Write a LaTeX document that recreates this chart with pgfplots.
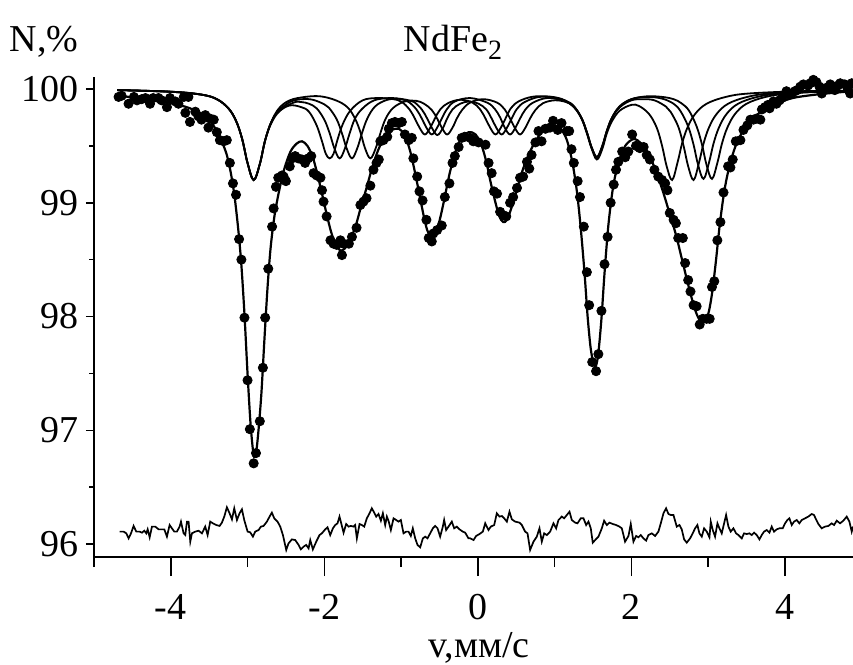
\documentclass[border=0pt]{standalone}
\usepackage{fontspec}
\setmainfont{Liberation Serif}
\usepackage{pgfplots}
\pgfplotsset{compat=1.18}
\begin{document}
\begin{tikzpicture}
\begin{axis}[
  scale only axis, width=379.5pt, height=240pt,
  xmin=-5, xmax=4.887, ymin=95.887, ymax=100.105,
  axis lines*=left,
  axis line style={line width=0.8pt},
  tick align=outside,
  xtick={-4,-2,0,2,4}, minor xtick={-5,-3,-1,1,3},
  ytick={96,97,98,99,100}, minor ytick={96.5,97.5,98.5,99.5},
  tick style={black, line width=0.8pt},
  major tick length=4pt, minor tick length=2.5pt,
  xtick style={/pgfplots/major tick length=9.5pt, /pgfplots/minor tick length=5pt},
  ticklabel style={font=\fontsize{19}{22}\selectfont},
  xticklabel style={yshift=-11pt},
  /pgf/number format/assume math mode=true,
  clip=false,
]
% ---------- subspectra ----------
\addplot[black, line width=0.9pt, smooth, tension=0.6] coordinates {
(-4.70,99.99) (-4.00,99.976) (-3.60,99.95) (-3.40,99.91) (-3.25,99.83) (-3.15,99.72)
(-3.07,99.56) (-3.00,99.35) (-2.92,99.20) (-2.84,99.34) (-2.77,99.55) (-2.69,99.70)
(-2.59,99.80) (-2.45,99.855) (-2.30,99.84) (-2.20,99.80) (-2.10,99.68) (-2.03,99.54)
(-1.98,99.43) (-1.93,99.39) (-1.88,99.43) (-1.83,99.55) (-1.76,99.69) (-1.66,99.81)
(-1.50,99.90) (-1.31,99.92) (-1.10,99.91) (-0.99,99.885) (-0.89,99.82) (-0.82,99.74)
(-0.76,99.66) (-0.69,99.60) (-0.62,99.66) (-0.56,99.74) (-0.49,99.82) (-0.39,99.875)
(-0.23,99.905) (-0.07,99.88) (0.03,99.82) (0.10,99.74) (0.16,99.66) (0.23,99.60)
(0.30,99.66) (0.36,99.74) (0.43,99.83) (0.53,99.89) (0.70,99.93) (0.90,99.935)
(1.10,99.91) (1.25,99.84) (1.35,99.74) (1.42,99.61) (1.48,99.48) (1.55,99.38)
(1.62,99.47) (1.68,99.61) (1.75,99.72) (1.85,99.81) (2.00,99.86) (2.10,99.85)
(2.23,99.78) (2.33,99.66) (2.40,99.50) (2.46,99.32) (2.53,99.20) (2.60,99.35)
(2.66,99.52) (2.73,99.66) (2.83,99.78) (2.98,99.87) (3.23,99.93) (3.53,99.96)
(4.20,99.98) (4.89,99.985)
};
\addplot[black, line width=0.9pt, smooth, tension=0.6] coordinates {
(-4.70,99.99) (-4.00,99.975) (-3.60,99.95) (-3.40,99.91) (-3.25,99.83) (-3.15,99.72)
(-3.07,99.56) (-3.00,99.35) (-2.92,99.20) (-2.84,99.34) (-2.77,99.55) (-2.69,99.71)
(-2.59,99.81) (-2.40,99.88) (-2.30,99.885) (-2.20,99.87) (-2.10,99.83) (-2.00,99.73)
(-1.93,99.61) (-1.87,99.48) (-1.80,99.39) (-1.73,99.48) (-1.67,99.61) (-1.60,99.74)
(-1.50,99.83) (-1.35,99.90) (-1.15,99.92) (-1.00,99.91) (-0.90,99.885) (-0.80,99.82)
(-0.73,99.74) (-0.67,99.66) (-0.60,99.60) (-0.53,99.66) (-0.47,99.74) (-0.40,99.825)
(-0.30,99.89) (-0.10,99.92) (0.12,99.88) (0.22,99.825) (0.29,99.75) (0.35,99.66)
(0.42,99.60) (0.49,99.66) (0.55,99.74) (0.62,99.82) (0.72,99.88) (0.90,99.92)
(1.10,99.90) (1.25,99.845) (1.35,99.745) (1.42,99.62) (1.48,99.49) (1.55,99.40)
(1.62,99.49) (1.68,99.63) (1.75,99.75) (1.85,99.84) (2.00,99.90) (2.15,99.91)
(2.30,99.90) (2.45,99.845) (2.51,99.80) (2.61,99.67) (2.68,99.50) (2.74,99.32)
(2.81,99.20) (2.88,99.35) (2.94,99.52) (3.01,99.66) (3.11,99.78) (3.26,99.87)
(3.51,99.93) (3.81,99.96) (4.40,99.975) (4.89,99.98)
};
\addplot[black, line width=0.9pt, smooth, tension=0.6] coordinates {
(-4.70,99.99) (-4.00,99.975) (-3.60,99.95) (-3.40,99.91) (-3.25,99.83) (-3.15,99.72)
(-3.07,99.56) (-3.00,99.35) (-2.92,99.20) (-2.84,99.34) (-2.77,99.55) (-2.69,99.71)
(-2.59,99.81) (-2.45,99.885) (-2.30,99.91) (-2.15,99.905) (-2.00,99.865) (-1.94,99.835)
(-1.84,99.735) (-1.77,99.61) (-1.71,99.48) (-1.64,99.39) (-1.57,99.48) (-1.51,99.61)
(-1.44,99.74) (-1.34,99.845) (-1.20,99.90) (-1.05,99.915) (-0.90,99.90) (-0.83,99.885)
(-0.73,99.82) (-0.66,99.74) (-0.60,99.66) (-0.53,99.595) (-0.46,99.65) (-0.40,99.74)
(-0.33,99.82) (-0.23,99.87) (-0.11,99.89) (0.01,99.87) (0.11,99.82) (0.18,99.74)
(0.24,99.66) (0.31,99.60) (0.38,99.66) (0.44,99.74) (0.51,99.825) (0.61,99.885)
(0.80,99.93) (1.00,99.92) (1.15,99.895) (1.25,99.85) (1.35,99.745) (1.42,99.62)
(1.48,99.49) (1.55,99.40) (1.62,99.50) (1.68,99.63) (1.75,99.75) (1.85,99.845)
(2.00,99.91) (2.20,99.93) (2.40,99.915) (2.55,99.87) (2.64,99.805) (2.74,99.67)
(2.81,99.51) (2.87,99.33) (2.94,99.21) (3.01,99.35) (3.07,99.52) (3.14,99.66)
(3.24,99.78) (3.39,99.87) (3.64,99.93) (3.94,99.96) (4.40,99.975) (4.89,99.98)
};
\addplot[black, line width=0.9pt, smooth, tension=0.6] coordinates {
(-4.70,99.99) (-4.00,99.976) (-3.60,99.95) (-3.40,99.91) (-3.25,99.83) (-3.15,99.72)
(-3.07,99.56) (-3.00,99.35) (-2.92,99.20) (-2.84,99.34) (-2.77,99.55) (-2.69,99.71)
(-2.59,99.83) (-2.45,99.90) (-2.25,99.93) (-2.05,99.935) (-1.85,99.90) (-1.70,99.84)
(-1.60,99.74) (-1.53,99.62) (-1.47,99.48) (-1.40,99.39) (-1.33,99.48) (-1.27,99.61)
(-1.20,99.74) (-1.10,99.835) (-0.95,99.89) (-0.80,99.895) (-0.70,99.87) (-0.60,99.815)
(-0.53,99.74) (-0.47,99.66) (-0.40,99.60) (-0.33,99.66) (-0.27,99.745) (-0.20,99.82)
(-0.10,99.88) (0.07,99.91) (0.25,99.88) (0.35,99.82) (0.42,99.74) (0.48,99.66)
(0.55,99.60) (0.62,99.66) (0.68,99.74) (0.75,99.815) (0.85,99.875) (1.00,99.90)
(1.15,99.885) (1.25,99.845) (1.35,99.745) (1.42,99.62) (1.48,99.49) (1.55,99.40)
(1.62,99.49) (1.68,99.63) (1.75,99.75) (1.85,99.85) (2.00,99.91) (2.20,99.935)
(2.40,99.93) (2.55,99.91) (2.65,99.875) (2.75,99.81) (2.85,99.67) (2.92,99.51)
(2.98,99.33) (3.05,99.21) (3.12,99.35) (3.18,99.52) (3.25,99.66) (3.35,99.78)
(3.50,99.87) (3.75,99.93) (4.05,99.96) (4.50,99.975) (4.89,99.98)
};
% ---------- total fit ----------
\addplot[black, line width=1.1pt, smooth, tension=0.5] coordinates {
(-4.70,99.94) (-4.40,99.92) (-4.10,99.89) (-3.90,99.86) (-3.75,99.83) (-3.60,99.78)
(-3.49,99.72) (-3.40,99.63) (-3.33,99.53) (-3.27,99.42) (-3.22,99.27) (-3.17,99.06)
(-3.12,98.76) (-3.08,98.45) (-3.04,98.02) (-3.00,97.50) (-2.96,97.05) (-2.92,96.78)
(-2.89,96.80) (-2.86,96.98) (-2.82,97.32) (-2.78,97.80) (-2.74,98.25) (-2.70,98.60)
(-2.65,98.88) (-2.59,99.10) (-2.52,99.30) (-2.44,99.45) (-2.36,99.52) (-2.29,99.54)
(-2.22,99.50) (-2.15,99.40) (-2.09,99.25) (-2.03,99.08) (-1.97,98.90) (-1.91,98.74)
(-1.85,98.63) (-1.79,98.58) (-1.73,98.60) (-1.66,98.68) (-1.59,98.80) (-1.52,98.97)
(-1.45,99.13) (-1.38,99.30) (-1.30,99.46) (-1.21,99.58) (-1.12,99.64) (-1.03,99.65)
(-0.95,99.59) (-0.88,99.45) (-0.82,99.27) (-0.76,99.07) (-0.71,98.90) (-0.66,98.76)
(-0.61,98.70) (-0.56,98.72) (-0.50,98.84) (-0.44,99.02) (-0.37,99.25) (-0.30,99.43)
(-0.22,99.56) (-0.12,99.62) (-0.03,99.60) (0.05,99.50) (0.11,99.36) (0.17,99.17)
(0.23,99.00) (0.28,98.88) (0.33,98.83) (0.38,98.85) (0.44,98.96) (0.51,99.12)
(0.58,99.28) (0.66,99.42) (0.75,99.54) (0.86,99.64) (0.98,99.68) (1.08,99.65)
(1.16,99.55) (1.23,99.36) (1.29,99.10) (1.34,98.78) (1.39,98.38) (1.43,98.00)
(1.47,97.72) (1.51,97.58) (1.54,97.57) (1.57,97.68) (1.61,97.98) (1.65,98.38)
(1.70,98.80) (1.76,99.13) (1.83,99.35) (1.92,99.50) (2.03,99.56) (2.13,99.52)
(2.23,99.42) (2.33,99.26) (2.42,99.08) (2.50,98.90) (2.58,98.72) (2.66,98.50)
(2.74,98.28) (2.82,98.08) (2.88,97.98) (2.94,97.95) (3.00,98.02) (3.05,98.20)
(3.10,98.48) (3.15,98.80) (3.21,99.10) (3.28,99.33) (3.37,99.52) (3.50,99.68)
(3.65,99.78) (3.85,99.86) (4.10,99.92) (4.40,99.95) (4.70,99.97) (4.89,99.98)
};
% ---------- measured points ----------
\addplot[only marks, mark=*, mark size=2.3pt, black] coordinates {
(-4.68,99.93) (-4.64,99.94) (-4.55,99.87) (-4.48,99.93) (-4.44,99.90) (-4.38,99.91)
(-4.33,99.92) (-4.27,99.87) (-4.23,99.92) (-4.16,99.92) (-4.12,99.90) (-4.05,99.84)
(-4.01,99.92) (-3.94,99.89) (-3.90,99.87) (-3.83,99.93) (-3.81,99.79) (-3.77,99.93)
(-3.75,99.71) (-3.68,99.80) (-3.64,99.76) (-3.60,99.73) (-3.55,99.77) (-3.51,99.66)
(-3.49,99.74) (-3.44,99.73) (-3.40,99.62) (-3.36,99.55) (-3.31,99.54) (-3.27,99.55)
(-3.23,99.35) (-3.19,99.17) (-3.15,99.07) (-3.11,98.68) (-3.08,98.50) (-3.04,97.99)
(-3.00,97.44) (-2.97,97.01) (-2.92,96.71) (-2.89,96.80) (-2.84,97.08) (-2.80,97.55)
(-2.77,97.99) (-2.73,98.42) (-2.68,98.79) (-2.66,98.95) (-2.63,99.14) (-2.60,99.22)
(-2.55,99.24) (-2.53,99.23) (-2.50,99.19) (-2.45,99.32) (-2.42,99.39) (-2.38,99.41)
(-2.34,99.39) (-2.29,99.38) (-2.25,99.35) (-2.21,99.39) (-2.17,99.41) (-2.14,99.26)
(-2.10,99.24) (-2.05,99.22) (-2.03,99.11) (-2.01,99.01) (-1.97,98.88) (-1.92,98.67)
(-1.88,98.64) (-1.84,98.63) (-1.79,98.67) (-1.77,98.54) (-1.75,98.64) (-1.68,98.64)
(-1.64,98.70) (-1.58,98.78) (-1.53,98.98) (-1.49,99.01) (-1.45,99.04) (-1.40,99.15)
(-1.36,99.29) (-1.32,99.35) (-1.29,99.38) (-1.27,99.54) (-1.23,99.55) (-1.18,99.58)
(-1.16,99.65) (-1.12,99.70) (-1.08,99.71) (-1.03,99.70) (-0.99,99.71) (-0.95,99.60)
(-0.90,99.55) (-0.86,99.57) (-0.84,99.39) (-0.79,99.23) (-0.76,99.10) (-0.72,99.02)
(-0.67,98.85) (-0.64,98.69) (-0.60,98.66) (-0.58,98.73) (-0.53,98.76) (-0.47,98.80)
(-0.43,99.05) (-0.37,99.17) (-0.33,99.35) (-0.30,99.41) (-0.25,99.49) (-0.21,99.57)
(-0.17,99.58) (-0.10,99.57) (-0.06,99.54) (-0.04,99.55) (0.01,99.53) (0.10,99.51)
(0.14,99.35) (0.18,99.26) (0.21,99.10) (0.25,99.08) (0.29,98.92) (0.33,98.89)
(0.37,98.88) (0.42,99.00) (0.46,99.05) (0.51,99.13) (0.55,99.22) (0.59,99.23)
(0.64,99.36) (0.67,99.30) (0.70,99.42) (0.75,99.53) (0.79,99.63) (0.83,99.54)
(0.88,99.65) (0.94,99.66) (0.98,99.72) (1.04,99.64) (1.09,99.70) (1.16,99.63)
(1.19,99.63) (1.22,99.47) (1.25,99.35) (1.30,99.19) (1.33,99.05) (1.38,98.79)
(1.42,98.39) (1.45,98.10) (1.49,97.60) (1.54,97.52) (1.57,97.67) (1.61,98.05)
(1.65,98.46) (1.69,98.70) (1.73,99.00) (1.77,99.16) (1.80,99.29) (1.83,99.36)
(1.88,99.45) (1.92,99.40) (1.96,99.45) (2.01,99.60) (2.06,99.50) (2.11,99.48)
(2.16,99.49) (2.20,99.42) (2.24,99.38) (2.30,99.29) (2.35,99.23) (2.40,99.20)
(2.44,99.17) (2.47,99.11) (2.50,98.91) (2.55,98.85) (2.58,98.82) (2.61,98.69)
(2.67,98.69) (2.70,98.47) (2.74,98.32) (2.77,98.22) (2.81,98.10) (2.85,98.09)
(2.89,97.93) (2.93,97.98) (2.98,97.98) (3.02,97.98) (3.05,98.26) (3.08,98.31)
(3.12,98.67) (3.16,98.83) (3.20,99.09) (3.26,99.32) (3.29,99.31) (3.32,99.38)
(3.36,99.54) (3.42,99.55) (3.46,99.64) (3.51,99.68) (3.55,99.73) (3.59,99.73)
(3.63,99.74) (3.68,99.73) (3.70,99.82) (3.74,99.84) (3.78,99.86) (3.80,99.83)
(3.85,99.89) (3.89,99.87) (3.93,99.90) (3.96,99.92) (4.02,99.98) (4.05,99.95)
(4.09,99.96) (4.13,99.98) (4.16,99.99) (4.20,100.02) (4.24,100.04) (4.30,100.03)
(4.33,100.05) (4.37,100.08) (4.41,100.06) (4.45,100.02) (4.48,99.96) (4.54,100.01)
(4.59,100.04) (4.62,100.02) (4.65,99.99) (4.69,100.03) (4.72,100.05) (4.78,100.04)
(4.82,100.00) (4.85,99.96) (4.87,100.05)
};
% ---------- residual ----------
\addplot[black, line width=0.85pt] coordinates {
(-4.666,96.110) (-4.614,96.110) (-4.579,96.095) (-4.549,96.051) (-4.518,96.095)
(-4.484,96.160) (-4.449,96.110) (-4.406,96.110) (-4.375,96.101) (-4.345,96.118)
(-4.319,96.095) (-4.301,96.130) (-4.275,96.060) (-4.245,96.154) (-4.202,96.154)
(-4.158,96.130) (-4.115,96.130) (-4.084,96.130) (-4.050,96.066) (-4.015,96.168)
(-3.985,96.139) (-3.954,96.110) (-3.920,96.110) (-3.885,96.154) (-3.867,96.198)
(-3.833,96.095) (-3.811,96.080) (-3.789,96.198) (-3.768,96.198) (-3.746,96.022)
(-3.724,96.095) (-3.681,96.110) (-3.637,96.118) (-3.594,96.095) (-3.551,96.154)
(-3.520,96.080) (-3.486,96.198) (-3.451,96.183) (-3.407,96.168) (-3.364,96.160)
(-3.334,96.189) (-3.303,96.242) (-3.269,96.324) (-3.234,96.271) (-3.203,96.218)
(-3.173,96.315) (-3.138,96.212) (-3.104,96.271) (-3.073,96.306) (-3.043,96.212)
(-2.999,96.110) (-2.965,96.104) (-2.930,96.066) (-2.900,96.110) (-2.856,96.124)
(-2.826,96.154) (-2.791,96.160) (-2.748,96.198) (-2.713,96.242) (-2.683,96.277)
(-2.652,96.227) (-2.609,96.198) (-2.574,96.154) (-2.539,96.080) (-2.496,95.949)
(-2.466,96.007) (-2.422,96.042) (-2.379,96.036) (-2.335,95.993) (-2.305,95.954)
(-2.270,95.978) (-2.236,95.993) (-2.205,95.963) (-2.183,96.036) (-2.149,95.954)
(-2.105,96.022) (-2.062,96.080) (-2.032,96.095) (-1.988,96.130) (-1.958,96.148)
(-1.923,96.080) (-1.888,96.139) (-1.858,96.168) (-1.828,96.183) (-1.802,96.242)
(-1.771,96.160) (-1.749,96.101) (-1.715,96.177) (-1.684,96.154) (-1.654,96.160)
(-1.619,96.154) (-1.598,96.168) (-1.576,96.051) (-1.541,96.177) (-1.511,96.168)
(-1.480,96.154) (-1.446,96.227) (-1.411,96.271) (-1.381,96.315) (-1.350,96.277)
(-1.324,96.242) (-1.294,96.265) (-1.263,96.206) (-1.237,96.271) (-1.207,96.168)
(-1.185,96.242) (-1.164,96.206) (-1.133,96.124) (-1.098,96.227) (-1.064,96.212)
(-1.033,96.198) (-1.003,96.212) (-0.968,96.095) (-0.933,96.110) (-0.903,96.110)
(-0.873,96.072) (-0.847,96.139) (-0.816,96.051) (-0.786,95.993) (-0.751,95.972)
(-0.716,96.051) (-0.686,96.066) (-0.656,96.051) (-0.621,96.095) (-0.586,96.139)
(-0.556,96.160) (-0.525,96.139) (-0.491,96.066) (-0.456,96.154) (-0.439,96.212)
(-0.413,96.124) (-0.382,96.154) (-0.339,96.198) (-0.308,96.139) (-0.274,96.154)
(-0.239,96.130) (-0.196,96.110) (-0.165,96.101) (-0.122,96.051) (-0.100,96.051)
(-0.056,96.036) (-0.022,96.072) (0.022,96.089) (0.065,96.110) (0.096,96.183)
(0.139,96.124) (0.169,96.154) (0.213,96.168) (0.247,96.271) (0.282,96.242)
(0.313,96.247) (0.343,96.227) (0.378,96.198) (0.412,96.285) (0.443,96.218)
(0.486,96.198) (0.543,96.189) (0.573,96.168) (0.616,96.110) (0.647,96.095)
(0.681,95.949) (0.725,96.022) (0.768,96.066) (0.803,96.139) (0.833,96.022)
(0.864,96.095) (0.898,96.080) (0.942,96.110) (0.985,96.183) (1.020,96.139)
(1.050,96.212) (1.094,96.242) (1.124,96.227) (1.159,96.256) (1.194,96.285)
(1.224,96.212) (1.267,96.189) (1.298,96.183) (1.341,96.227) (1.376,96.227)
(1.411,96.168) (1.441,96.198) (1.471,96.139) (1.497,96.013) (1.528,96.036)
(1.571,96.066) (1.615,96.139) (1.645,96.206) (1.680,96.168) (1.714,96.189)
(1.758,96.177) (1.801,96.168) (1.845,96.154) (1.875,96.139) (1.918,96.022)
(1.962,96.072) (1.992,96.177) (2.027,96.022) (2.062,96.072) (2.092,96.060)
(2.122,96.080) (2.157,96.051) (2.192,96.031) (2.222,96.080) (2.266,96.095)
(2.309,96.072) (2.352,96.110) (2.383,96.183) (2.418,96.271) (2.452,96.315)
(2.483,96.265) (2.513,96.256) (2.548,96.256) (2.591,96.154) (2.626,96.168)
(2.656,96.130) (2.687,96.042) (2.721,96.013) (2.765,96.051) (2.799,96.095)
(2.830,96.139) (2.860,96.168) (2.886,96.095) (2.917,96.066) (2.947,96.139)
(2.982,96.110) (3.017,96.060) (3.034,96.198) (3.060,96.124) (3.090,96.066)
(3.121,96.183) (3.147,96.139) (3.177,96.095) (3.208,96.183) (3.234,96.256)
(3.264,96.154) (3.294,96.110) (3.329,96.139) (3.364,96.095) (3.394,96.080)
(3.438,96.051) (3.468,96.095) (3.503,96.089) (3.537,96.095) (3.568,96.080)
(3.598,96.101) (3.633,96.080) (3.668,96.042) (3.698,96.080) (3.728,96.110)
(3.763,96.124) (3.798,96.101) (3.828,96.154) (3.858,96.110) (3.893,96.130)
(3.928,96.139) (3.971,96.139) (4.002,96.183) (4.032,96.212) (4.058,96.227)
(4.089,96.168) (4.119,96.198) (4.154,96.212) (4.188,96.183) (4.219,96.212)
(4.262,96.227) (4.305,96.242) (4.349,96.265) (4.379,96.256) (4.405,96.218)
(4.436,96.177) (4.479,96.139) (4.523,96.154) (4.566,96.160) (4.609,96.183)
(4.640,96.168) (4.675,96.206) (4.718,96.183) (4.761,96.206) (4.805,96.242)
(4.840,96.198) (4.870,96.110) (4.887,96.154)
};
\end{axis}
% ---------- texts ----------
\node[font=\fontsize{19}{22}\selectfont] at ([xshift=179.5pt,yshift=17.5pt]current axis.north west)
  {NdFe\raisebox{-0.45ex}{\fontsize{14}{14}\selectfont 2}};
\node[font=\fontsize{19}{22}\selectfont] at ([xshift=-25pt,yshift=17.5pt]current axis.north west) {N,\%};
\node[font=\fontsize{19}{22}\selectfont, inner sep=0pt] at ([xshift=192.5pt,yshift=-45.5pt]current axis.south west) {v,мм/с};
\pgfresetboundingbox
\path[use as bounding box] ([shift={(-47pt,-53.5pt)}]current axis.south west)
  rectangle ([shift={(0pt,38.5pt)}]current axis.north east);
\end{tikzpicture}
\end{document}
